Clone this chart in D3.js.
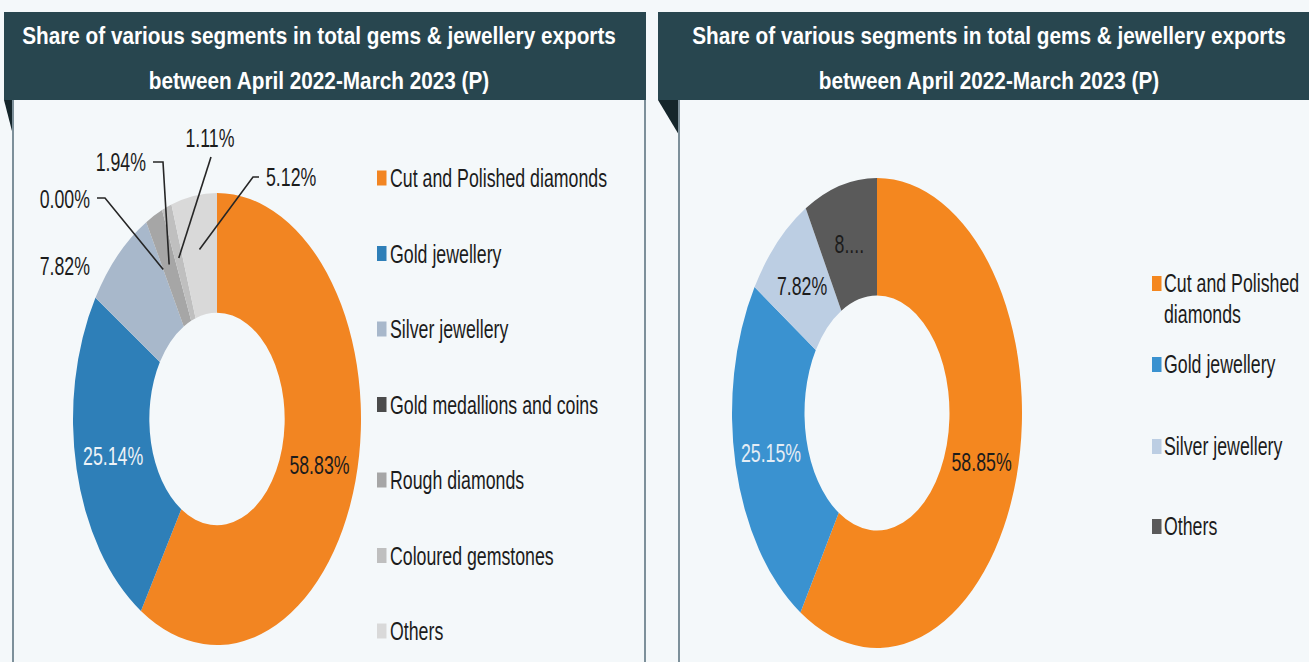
<!DOCTYPE html>
<html><head><meta charset="utf-8">
<script src="https://cdn.jsdelivr.net/npm/d3@7"></script>
<style>
html,body{margin:0;padding:0;background:#f4f8fa;}
svg{display:block;font-family:"Liberation Sans",Arial,sans-serif;}
</style></head>
<body>
<svg id="c" width="1309" height="662"></svg>
<script>
// ---------- data ----------
const titleLines = ["Share of various segments in total gems & jewellery exports", "between April 2022-March 2023 (P)"];

const leftCategories = ["Cut and Polished diamonds","Gold jewellery","Silver jewellery","Gold medallions and coins","Rough diamonds","Coloured gemstones","Others"];
const leftValues = [58.83, 25.14, 7.82, 0.00, 1.94, 1.11, 5.12];
const leftLabels = ["58.83%","25.14%","7.82%","0.00%","1.94%","1.11%","5.12%"];
const leftColors = ["#f28522","#2e7fb8","#a8b8cb","#4b4b4b","#a6a6a6","#bfbfbf","#d9d9d9"];

const rightCategories = ["Cut and Polished diamonds","Gold jewellery","Silver jewellery","Others"];
const rightLegendLines = [["Cut and Polished","diamonds"],["Gold jewellery"],["Silver jewellery"],["Others"]];
const rightValues = [58.85, 25.15, 7.82, 8.18];
const rightLabels = ["58.85%","25.15%","7.82%","8...."];
const rightColors = ["#f4871f","#3a92d0","#bccee3","#5a5a5a"];

// ---------- drawing ----------
const svg = d3.select("#c");
const HEADER = "#28464f", FOLD = "#15262b", BORDER = "#7d909a";
const NARROW = 0.71;

function ctext(g, x, y, str, opts) {
  opts = opts || {};
  return g.append("text")
    .attr("transform", `translate(${x},${y}) scale(${opts.sx || NARROW},1)`)
    .attr("text-anchor", opts.anchor || "start")
    .attr("font-size", opts.size || 25)
    .attr("font-weight", opts.weight || "normal")
    .attr("fill", opts.fill || "#1c1c1c")
    .text(str);
}

function panel(x0, x1, foldW) {
  const g = svg.append("g");
  g.append("rect").attr("x", x0).attr("y", 12).attr("width", x1 - x0).attr("height", 88).attr("fill", HEADER);
  g.append("path").attr("d", `M${x0},100 L${x0 + foldW},100 L${x0 + foldW},135 Z`).attr("fill", FOLD);
  g.append("line").attr("x1", x0 + foldW).attr("x2", x0 + foldW).attr("y1", 100).attr("y2", 662)
    .attr("stroke", BORDER).attr("stroke-width", 2);
  return g;
}

// Left panel
const gl = panel(4, 646, 9);
gl.append("line").attr("x1", 645).attr("x2", 645).attr("y1", 100).attr("y2", 662).attr("stroke", BORDER).attr("stroke-width", 2);
ctext(gl, 319, 44, titleLines[0], {anchor:"middle", size:24, weight:"bold", fill:"#ffffff", sx:0.865});
ctext(gl, 319, 89, titleLines[1], {anchor:"middle", size:24, weight:"bold", fill:"#ffffff", sx:0.865});

// Right panel
const gr = panel(658, 1320, 21);
ctext(gr, 989, 44, titleLines[0], {anchor:"middle", size:24, weight:"bold", fill:"#ffffff", sx:0.865});
ctext(gr, 989, 89, titleLines[1], {anchor:"middle", size:24, weight:"bold", fill:"#ffffff", sx:0.865});

// Donut helper: circle of radius rx, stretched vertically by ry/rx
function donut(g, cx, cy, rx, ry, innerRatio, values, colors) {
  const pie = d3.pie().sort(null).value(d => d)(values);
  const arc = d3.arc().innerRadius(rx * innerRatio).outerRadius(rx);
  const dg = g.append("g").attr("transform", `translate(${cx},${cy}) scale(1,${ry / rx})`);
  dg.selectAll("path").data(pie).join("path")
    .attr("d", arc).attr("fill", (d, i) => colors[i]);
  const pt = (a, r) => [cx + Math.sin(a) * r * rx, cy - Math.cos(a) * r * ry];
  return {pie, pt};
}
const mid = d => (d.startAngle + d.endAngle) / 2;

// ----- Left donut -----
const L = donut(gl, 217, 419, 144, 226, 0.47, leftValues, leftColors);
[[0, "#1c1c1c"], [1, "#eef3f7"]].forEach(([i, col]) => {
  const p = L.pt(mid(L.pie[i]), 0.74);
  ctext(gl, p[0], p[1] + 9, leftLabels[i], {anchor:"middle", fill:col});
});
const leftOut = [
  {i:2, tx:90, ty:275, anchor:"end"},
  {i:3, tx:90, ty:208, anchor:"end", lead:[[97,198],[105,198]]},
  {i:4, tx:146, ty:171, anchor:"end", lead:[[153,162],[163,162]]},
  {i:5, tx:210, ty:147, anchor:"middle", lead:[[211,157]]},
  {i:6, tx:266, ty:186, anchor:"start", lead:[[259,177],[253,177]]}
];
leftOut.forEach(o => {
  ctext(gl, o.tx, o.ty, leftLabels[o.i], {anchor:o.anchor});
  if (o.lead) {
    const end = L.pt(mid(L.pie[o.i]), 0.76);
    gl.append("path").attr("d", d3.line()([...o.lead, end]))
      .attr("fill", "none").attr("stroke", "#262626").attr("stroke-width", 1.6);
  }
});
const legL = gl.append("g");
leftCategories.forEach((c, i) => {
  const yc = 178 + i * 75.5;
  legL.append("rect").attr("x", 377).attr("y", yc - 7.5).attr("width", 9.5).attr("height", 15).attr("fill", leftColors[i]);
  ctext(legL, 390, yc + 9, c);
});

// ----- Right donut -----
const R = donut(gr, 877, 413, 145, 235, 0.5, rightValues, rightColors);
rightLabels.forEach((lab, i) => {
  const p = R.pt(mid(R.pie[i]), 0.75);
  ctext(gr, p[0], p[1] + 10, lab, {anchor:"middle", fill: i === 1 ? "#e4edf5" : "#1c1c1c"});
});
const legR = gr.append("g");
const rTops = [276, 357, 439, 519];
rightLegendLines.forEach((lines, i) => {
  const top = rTops[i];
  legR.append("rect").attr("x", 1152).attr("y", top).attr("width", 9.5).attr("height", 15).attr("fill", rightColors[i]);
  lines.forEach((ln, j) => ctext(legR, 1164, top + 16 + j * 31, ln));
});
</script>
</body></html>
